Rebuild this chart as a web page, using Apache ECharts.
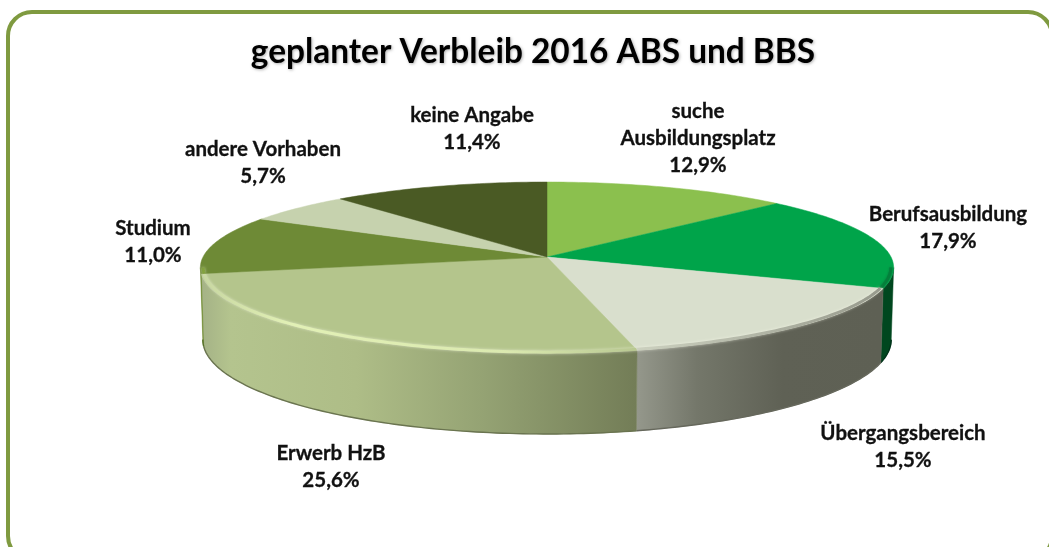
<!DOCTYPE html>
<html>
<head>
<meta charset="utf-8">
<style>html,body{margin:0;padding:0;background:#fff}#main{width:1049px;height:547px}</style>
<script src="https://cdn.jsdelivr.net/npm/echarts@6/dist/echarts.min.js"></script>
</head>
<body>
<div id="main"></div>
<script>
const names = ['suche\nAusbildungsplatz', 'Berufsausbildung', 'Übergangsbereich', 'Erwerb HzB', 'Studium', 'andere Vorhaben', 'keine Angabe'];
const shares = [12.9, 17.9, 15.5, 25.6, 11.0, 5.7, 11.4];
const topColors = ['#8bc04e', '#00a44a', '#d9dfcd', '#b4c58c', '#6e8a36', '#c6d2ae', '#4a5a24'];

// where each label sits (centre x, top y)
const labelX = [698, 948, 903, 331, 153, 263, 472];
const labelY = [98, 201, 420, 440, 215, 136, 102];

// pie geometry, fitted to the tilted view
const cx = 547, cy = 257, radX = 344, radY = 84.2, persp = 0.123, wall = 71;

const total = shares.reduce(function (a, b) { return a + b; }, 0);
// the wall can only be seen between the two widest points of the disc
const wallFrom = Math.acos(-persp) * 180 / Math.PI;
const wallTo = 360 - wallFrom;

function project(deg, r, down) {
  const a = deg * Math.PI / 180;
  const X = Math.sin(a) * r, Y = Math.cos(a) * r;
  const s = 1 / (1 + persp * Y);
  return [cx + radX * X * s * (down ? 0.993 : 1), cy - radY * Y * s + (down ? wall * s : 0)];
}
function sliceAngles(idx) {
  let before = 0;
  for (let i = 0; i < idx; i++) before += shares[i];
  return [before / total * 360, (before + shares[idx]) / total * 360];
}
function arc(from, to, r, down) {
  const pts = [];
  const n = Math.max(2, Math.ceil(to - from));
  for (let i = 0; i <= n; i++) pts.push(project(from + (to - from) * i / n, r, down));
  return pts;
}
function hGrad(x0, x1, stops) {
  return new echarts.graphic.LinearGradient(x0, 0, x1, 0, stops, true);
}

const wallFills = [
  '#6f9a3c',
  '#00471f',
  hGrad(636, 880, [
    { offset: 0, color: '#95988c' }, { offset: 0.25, color: '#74776a' },
    { offset: 0.6, color: '#5f6155' }, { offset: 1, color: '#5e6054' }
  ]),
  hGrad(205, 636, [
    { offset: 0, color: '#a6b487' }, { offset: 0.06, color: '#b4c48e' }, { offset: 0.35, color: '#aebd87' },
    { offset: 0.65, color: '#94a273' }, { offset: 1, color: '#737d57' }
  ]),
  '#6f8a30',
  '#c6d2ae',
  '#4a5a24'
];
const edgeColors = ['#5d8230', '#00331a', '#66685c', '#6a7450', '#56702a', '#c6d2ae', '#4a5a24'];
const rimColors = [
  null,
  '#047d3b',
  hGrad(636, 880, [{ offset: 0, color: '#c9cebc' }, { offset: 1, color: '#8e9184' }]),
  hGrad(205, 636, [
    { offset: 0, color: '#c8d8a0' }, { offset: 0.2, color: '#e4f3b6' },
    { offset: 0.7, color: '#dcebb0' }, { offset: 1, color: '#b6c68e' }
  ]),
  '#7fa03a',
  null,
  null
];

function renderWall(params, api) {
  const idx = params.dataIndex;
  const ang = sliceAngles(idx);
  const from = Math.max(ang[0], wallFrom), to = Math.min(ang[1], wallTo);
  if (to <= from) return { type: 'group', children: [] };
  const top = arc(from, to, 1, false);
  const bottom = arc(from, to, 1, true);
  return {
    type: 'group',
    children: [
      { type: 'polygon', shape: { points: top.concat(bottom.slice().reverse()) }, style: { fill: wallFills[idx], stroke: wallFills[idx], lineWidth: 0.5 } },
      { type: 'polyline', shape: { points: bottom }, style: { fill: 'none', stroke: edgeColors[idx], lineWidth: 1.4 } }
    ]
  };
}

function renderTop(params, api) {
  const idx = params.dataIndex;
  const ang = sliceAngles(idx);
  const pts = [[cx, cy]].concat(arc(ang[0], ang[1], 1, false));
  const children = [
    { type: 'polygon', shape: { points: pts }, style: { fill: topColors[idx], stroke: topColors[idx], lineWidth: 0.5 } }
  ];
  if (rimColors[idx]) {
    const rim = arc(ang[0], ang[1], 0.992, false).filter(function (p) { return p[1] > cy + 10; });
    children.push({
      type: 'polyline', shape: { points: rim },
      style: { fill: 'none', stroke: rimColors[idx], lineWidth: 3, opacity: 0.9, shadowBlur: 3, shadowColor: rimColors[idx] === '#047d3b' ? '#047d3b' : 'rgba(255,255,240,0.6)' }
    });
  }
  return { type: 'group', children: children };
}

function renderLabel(params, api) {
  const idx = params.dataIndex;
  return {
    type: 'text',
    style: {
      text: names[idx] + '\n' + api.value(0).toFixed(1).replace('.', ',') + '%',
      x: labelX[idx], y: labelY[idx],
      align: 'center', verticalAlign: 'top',
      fill: '#111', stroke: '#111', lineWidth: 0.3, lineHeight: 27,
      font: '700 20.5px Lato, "Open Sans", sans-serif'
    }
  };
}

const chart = echarts.init(document.getElementById('main'), null, { renderer: 'canvas' });
chart.setOption({
  animation: false,
  backgroundColor: '#fff',
  title: {
    text: 'geplanter Verbleib 2016 ABS und BBS',
    left: 528, top: 31, textAlign: 'center',
    textStyle: {
      color: '#000', fontFamily: 'Lato, "Open Sans", sans-serif', fontWeight: 700, fontSize: 33.4,
      textShadowColor: 'rgba(0,0,0,0.3)', textShadowBlur: 3, textShadowOffsetX: 1, textShadowOffsetY: 1
    }
  },
  graphic: [{
    type: 'rect', silent: true,
    shape: { x: 8, y: 12, width: 1044, height: 548, r: 24 },
    style: { fill: 'none', stroke: '#7f9a40', lineWidth: 4 }
  }],
  series: [
    { type: 'custom', coordinateSystem: 'none', silent: true, z: 2, renderItem: renderWall, data: shares.map(function (v) { return [v]; }) },
    { type: 'custom', coordinateSystem: 'none', silent: true, z: 3, renderItem: renderTop, data: shares.map(function (v) { return [v]; }) },
    { type: 'custom', coordinateSystem: 'none', silent: true, z: 4, renderItem: renderLabel, data: shares.map(function (v) { return [v]; }) }
  ]
});
</script>
</body>
</html>
